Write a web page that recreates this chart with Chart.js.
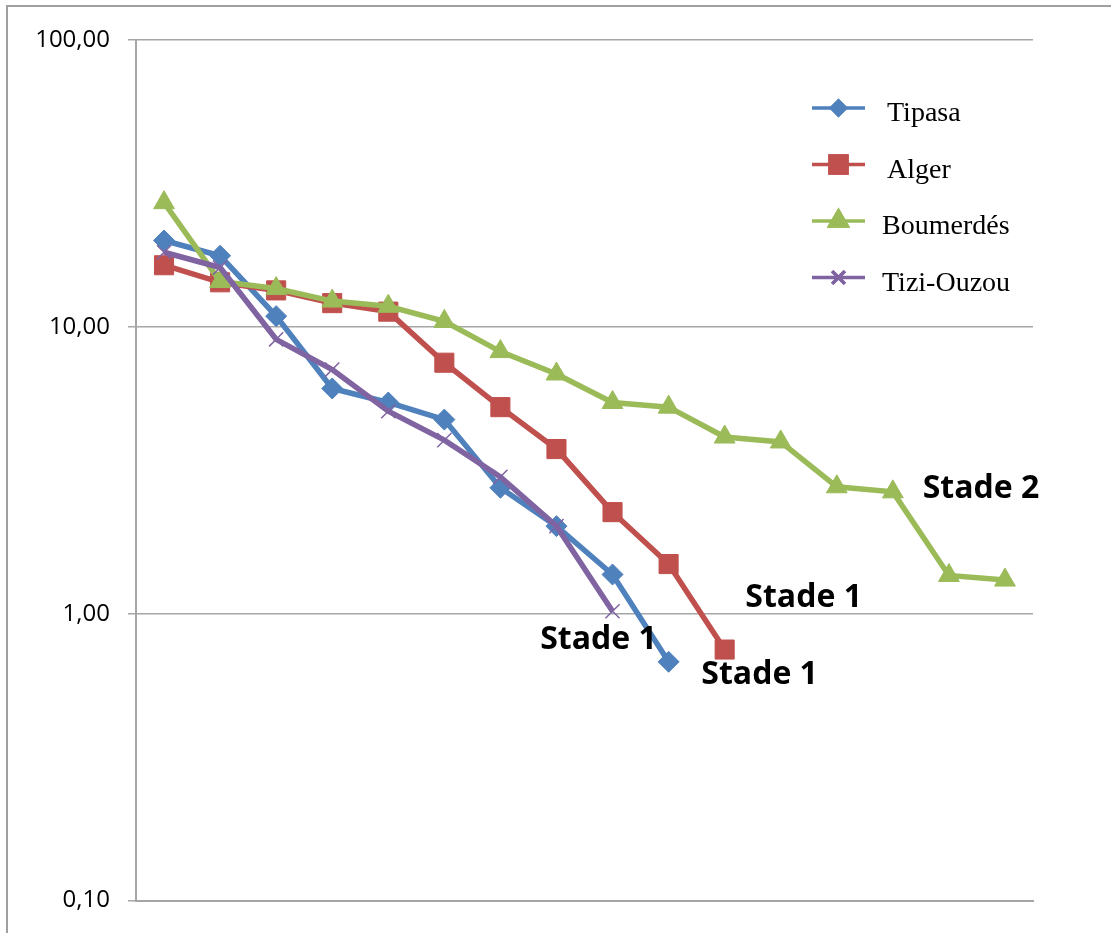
<!DOCTYPE html>
<html>
<head>
<meta charset="utf-8">
<script src="https://cdn.jsdelivr.net/npm/chart.js@4.4.0/dist/chart.umd.min.js"></script>
<style>
html, body { margin:0; padding:0; background:#fff; overflow:hidden; }
#wrap { position:relative; width:1111px; height:933px; }
#frame { position:absolute; left:6px; top:5px; width:1300px; height:1200px; border:2px solid #a0a0a0; }
canvas { position:absolute; left:0; top:0; }
</style>
</head>
<body>
<div id="wrap">
  <div id="frame"></div>
  <canvas id="chart" width="1111" height="933"></canvas>
</div>
<script>
/* DATA */
const categories = ["1","2","3","4","5","6","7","8","9","10","11","12","13","14","15","16"];
const seriesNames = ["Tipasa", "Alger", "Boumerdés", "Tizi-Ouzou"];
const tipasa = [20.0, 17.7, 10.9, 6.1, 5.45, 4.75, 2.75, 2.02, 1.37, 0.68];
const alger = [16.4, 14.3, 13.4, 12.1, 11.3, 7.5, 5.25, 3.75, 2.26, 1.49, 0.75];
const boumerdes = [27.1, 14.4, 13.6, 12.3, 11.8, 10.45, 8.2, 6.85, 5.45, 5.25, 4.13, 3.97, 2.77, 2.66, 1.36, 1.31];
const tiziOuzou = [18.2, 16.1, 9.05, 7.1, 5.08, 4.03, 3.0, 2.02, 1.02];
const yTicks = [0.1, 1, 10, 100];
const stageLabels = ["Stade 1", "Stade 1", "Stade 2", "Stade 1"];

/* STYLE */
const colors = ["#4F81BD", "#C0504D", "#9BBB59", "#8064A2"];
const styles = ["rectRot", "rect", "triangle", "crossRot"];
const radii = [10.5, 13.5, 12, 10];
const legendRadii = [7, 12, 10, 9];
const gridGray = "#a6a6a6";

function series(i, data) {
  return {
    label: seriesNames[i],
    data: data,
    borderColor: colors[i],
    backgroundColor: colors[i],
    borderWidth: 5.5,
    pointStyle: styles[i],
    pointRadius: radii[i],
    pointBackgroundColor: colors[i],
    pointBorderColor: colors[i],
    pointBorderWidth: i === 3 ? 1.5 : 1,
    tension: 0,
    order: 4 - i
  };
}

/* CUSTOM LEGEND + STAGE TEXT */
const overlay = {
  id: "overlay",
  afterDraw(chart) {
    const ctx = chart.ctx;
    ctx.save();
    // legend
    chart.data.datasets.forEach((ds, i) => {
      const y = 108 + i * 56.5;
      ctx.strokeStyle = ds.borderColor;
      ctx.lineWidth = 3.5;
      ctx.beginPath();
      ctx.moveTo(812, y);
      ctx.lineTo(865, y);
      ctx.stroke();
      Chart.helpers.drawPoint(ctx, {
        pointStyle: ds.pointStyle, radius: legendRadii[i], rotation: 0,
        borderWidth: i === 3 ? 1.5 : 1
      }, 838.5, y);
      ctx.fillStyle = ds.borderColor;
      if (i !== 3) ctx.fill();
      ctx.stroke();
      ctx.fillStyle = "#000";
      ctx.font = "28px 'Liberation Serif'";
      ctx.textAlign = "left";
      ctx.textBaseline = "alphabetic";
      ctx.fillText(ds.label, i < 2 ? 887 : 882, y + 13);
    });
    // stage labels next to last point of each series
    const offs = [[91, 13], [79, -52], [-24, -91], [-14, 29]];
    ctx.font = "bold 32px 'Open Sans'";
    ctx.textAlign = "center";
    ctx.textBaseline = "middle";
    ctx.fillStyle = "#000";
    chart.data.datasets.forEach((ds, i) => {
      const pts = chart.getDatasetMeta(i).data;
      const last = pts[pts.length - 1];
      ctx.fillText(stageLabels[i], last.x + offs[i][0], last.y + offs[i][1]);
    });
    ctx.restore();
  }
};

new Chart(document.getElementById("chart"), {
  type: "line",
  data: {
    labels: categories,
    datasets: [series(0, tipasa), series(1, alger), series(2, boumerdes), series(3, tiziOuzou)]
  },
  options: {
    responsive: false,
    animation: false,
    devicePixelRatio: 1,
    layout: { padding: { left: 0, top: 40, right: 78, bottom: 30 } },
    plugins: { legend: { display: false }, tooltip: { enabled: false } },
    scales: {
      x: {
        type: "category",
        offset: true,
        grid: { display: false },
        ticks: { display: false },
        border: { color: gridGray, width: 2 },
        afterFit: s => { s.height = 0; }
      },
      y: {
        type: "logarithmic",
        min: 0.1,
        max: 100,
        afterBuildTicks: s => { s.ticks = yTicks.map(v => ({ value: v })); },
        afterFit: s => { s.width = 136; },
        ticks: {
          callback: v => Number(v).toFixed(2).replace(".", ","),
          font: { family: "Open Sans", size: 24 },
          color: "#000",
          padding: 18
        },
        grid: { color: gridGray, lineWidth: 1.5, tickLength: 8 },
        border: { color: gridGray, width: 2 }
      }
    }
  },
  plugins: [overlay]
});
</script>
</body>
</html>
